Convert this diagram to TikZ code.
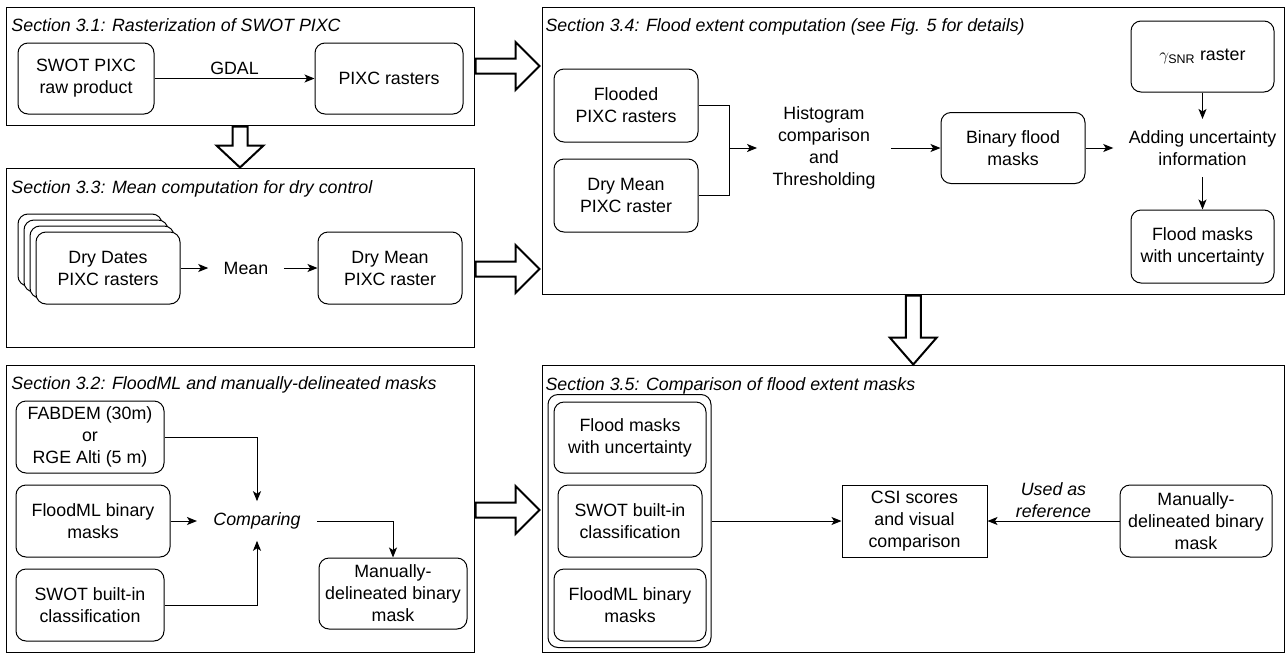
\documentclass[tikz,border=0pt]{standalone}
\usepackage{amsmath}
\usepackage{fontspec}
\setmainfont{Liberation Sans}
\usepackage{tikz}
\usetikzlibrary{arrows, arrows.meta}
\newcommand{\flowfont}{\fontsize{17.8pt}{22pt}\selectfont}

\begin{document}
\begin{tikzpicture}[
	x = 1pt, y = -1pt,
	>={Stealth[length=10pt, width=8pt, inset=2.5pt]},
	line width = 1pt,
	secbox/.style = {draw, rectangle},
	sectitle/.style = {anchor=base west, font=\flowfont\itshape, inner sep=0pt},
	rbox/.style = {draw, rectangle, rounded corners=10pt, align=center, fill=white, inner sep=2pt},
	sbox/.style = {draw, rectangle, align=center, inner sep=2pt},
	txt/.style = {align=center, inner xsep=15pt, inner ysep=11pt},
	fatarrow/.style = {draw, line width=2pt, line join=miter},
]
\tikzstyle{every node}=[font=\flowfont]
\useasboundingbox (0,0) rectangle (1286,654);

% Define section boxes
\node[secbox, minimum width=468pt, minimum height=118pt] (s31) at (240,66) {};
\node[secbox, minimum width=468pt, minimum height=179pt] (s33) at (240,257.5) {};
\node[secbox, minimum width=468pt, minimum height=287.5pt] (s32) at (240,508.75) {};
\node[secbox, minimum width=742.5pt, minimum height=287pt] (s34) at (913.25,150.5) {};
\node[secbox, minimum width=742.5pt, minimum height=287.5pt] (s35) at (913.25,508.75) {};

\node[sectitle] (t31) at (11,31) {Section 3.1: Rasterization of SWOT PIXC};
\node[sectitle] (t33) at (11,193) {Section 3.3: Mean computation for dry control};
\node[sectitle] (t32) at (11,389) {Section 3.2: FloodML and manually-delineated masks};
\node[sectitle] (t34) at (545,31) {Section 3.4: Flood extent computation (see Fig. 5 for details)};
\node[sectitle] (t35) at (545,390) {Section 3.5: Comparison of flood extent masks};

% Block arrows between sections
\draw[fatarrow] (s31.south) ++(-7.5,1) -- ++(0,19) -- ++(-16,0) -- ++(23.5,22) -- ++(23.5,-22) -- ++(-16,0) -- ++(0,-19) -- cycle;
\draw[fatarrow] (s34.south) ++(-7.5,1) -- ++(0,42) -- ++(-16,0) -- ++(23.5,27) -- ++(23.5,-27) -- ++(-16,0) -- ++(0,-42) -- cycle;
\draw[fatarrow] (s31.east) ++(1,-7.5) -- ++(40,0) -- ++(0,-16.5) -- ++(24,24) -- ++(-24,24) -- ++(0,-16.5) -- ++(-40,0) -- cycle;
\draw[fatarrow] (s33.east) ++(1,4) -- ++(40,0) -- ++(0,-16.5) -- ++(24,24) -- ++(-24,24) -- ++(0,-16.5) -- ++(-40,0) -- cycle;
\draw[fatarrow] (s32.east) ++(1,-6.25) -- ++(40,0) -- ++(0,-16.5) -- ++(24,24) -- ++(-24,24) -- ++(0,-16.5) -- ++(-40,0) -- cycle;

% Section 3.1 vertices
\node[rbox, minimum width=136pt, minimum height=71pt] (swot) at (86,78.5) {SWOT PIXC\\raw product};
\node[rbox, minimum width=148pt, minimum height=71pt] (pixc) at (389,78.5) {PIXC rasters};

% Section 3.3 vertices
\node[rbox, minimum width=144pt, minimum height=72pt] (dd3) at (90,250) {};
\node[rbox, minimum width=144pt, minimum height=72pt] (dd2) at (96,256) {};
\node[rbox, minimum width=144pt, minimum height=72pt] (dd1) at (102,262) {};
\node[rbox, minimum width=144pt, minimum height=72pt] (drydates) at (108,268) {Dry Dates\\PIXC rasters};
\node[txt] (mean) at (246,268) {Mean};
\node[rbox, minimum width=144pt, minimum height=72pt] (drymean) at (390,268) {Dry Mean\\PIXC raster};

% Section 3.2 vertices
\node[rbox, minimum width=148pt, minimum height=72pt] (fabdem) at (90,437) {FABDEM (30m)\\or\\RGE Alti (5 m)};
\node[rbox, minimum width=154pt, minimum height=72pt] (floodml) at (93,521) {FloodML binary\\masks};
\node[rbox, minimum width=148pt, minimum height=72pt] (swotcls) at (90,605) {SWOT built-in\\classification};
\node[txt, font=\flowfont\itshape, inner xsep=16pt] (cmp) at (257,521) {Comparing};
\node[rbox, minimum width=148pt, minimum height=71pt] (manual) at (393,593.5) {Manually-\\delineated binary\\mask};

% Section 3.4 vertices
\node[rbox, minimum width=144pt, minimum height=73pt] (flooded) at (626,105.5) {Flooded\\PIXC rasters};
\node[rbox, minimum width=144pt, minimum height=73pt] (drymeanb) at (626,195.5) {Dry Mean\\PIXC raster};
\coordinate (join) at (729,148);
\node[txt] (hist) at (824,148) {Histogram\\comparison\\and\\Thresholding};
\node[rbox, minimum width=144pt, minimum height=71pt] (binary) at (1013,148) {Binary flood\\masks};
\node[txt] (adding) at (1202.5,148) {Adding uncertainty\\information};
\node[rbox, minimum width=143pt, minimum height=71pt] (gamma) at (1202.5,56.5) {\(\gamma_{\text{SNR}}\) raster};
\node[rbox, minimum width=143pt, minimum height=73pt] (fmu) at (1202.5,246.5) {Flood masks\\with uncertainty};

% Section 3.5 vertices
\node[rbox, minimum width=163pt, minimum height=253pt] (group) at (629.5,521) {};
\node[rbox, minimum width=152pt, minimum height=71pt] (fmub) at (630,437.5) {Flood masks\\with uncertainty};
\node[rbox, minimum width=144pt, minimum height=72pt] (swotclsb) at (630,521) {SWOT built-in\\classification};
\node[rbox, minimum width=152pt, minimum height=72pt] (floodmlb) at (630,605) {FloodML binary\\masks};
\node[sbox, minimum width=145pt, minimum height=72pt] (csi) at (914.5,521) {CSI scores\\and visual\\comparison};
\node[rbox, minimum width=152pt, minimum height=72pt] (manualb) at (1196,521) {Manually-\\delineated binary\\mask};

% Draw edges
\path[->] (swot) edge node[above]{GDAL} (pixc);
\path[->] (drydates) edge (mean);
\path[->] (mean) edge (drymean);
\draw[->] (fabdem) -| (cmp);
\path[->] (floodml) edge (cmp);
\draw[->] (swotcls) -| (cmp);
\draw[->] (cmp) -| (manual);
\draw (flooded) -| (join);
\draw (drymeanb) -| (join);
\path[->] (join) edge (hist);
\path[->] (hist) edge (binary);
\path[->] (binary) edge (adding);
\path[->] (gamma) edge (adding);
\path[->] (adding) edge (fmu);
\path[->] (group) edge (csi);
\path[->] (manualb) edge node[above, align=center, font=\flowfont\itshape]{Used as\\reference} (csi);
\end{tikzpicture}
\end{document}
